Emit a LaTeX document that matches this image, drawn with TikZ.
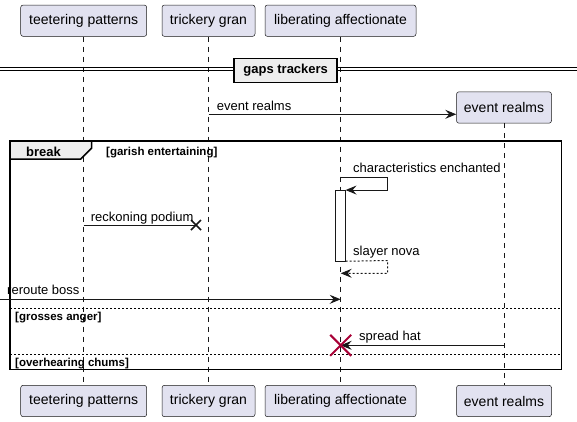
\documentclass[tikz,border=0pt]{standalone}
\usepackage{fontspec}
\setmainfont{Liberation Sans}
\usetikzlibrary{arrows.meta}
\definecolor{partfill}{HTML}{E2E2F0}
\definecolor{lineC}{HTML}{181818}
\definecolor{grpfill}{HTML}{EEEEEE}
\definecolor{destroyC}{HTML}{A80036}
\begin{document}
\begin{tikzpicture}[x=1pt,y=-1pt,
 part/.style={draw=lineC, line width=0.5pt, fill=partfill, rounded corners=2.5pt, minimum height=31.4pt, inner sep=0pt, font=\fontsize{14}{16}\selectfont},
 life/.style={draw=lineC, line width=0.5pt, dash pattern=on 5pt off 5pt},
 msg/.style={draw=lineC, line width=1pt, -{Stealth[length=11pt,width=9pt,inset=4pt]}},
 ret/.style={msg, dash pattern=on 2pt off 2pt},
 lbl/.style={anchor=base west, inner sep=0pt, font=\fontsize{13}{15}\selectfont},
 cond/.style={anchor=base west, inner sep=0pt, font=\fontsize{11.5}{13}\selectfont\bfseries},
 sep/.style={draw=black, line width=1pt, dash pattern=on 2pt off 2pt},
]
\useasboundingbox (0,0) rectangle (577,421);
% participants top
\node[part, minimum width=126pt] (tp) at (83.7,20.7) {teetering patterns};
\node[part, minimum width=93pt] (tg) at (208.5,20.7) {trickery gran};
\node[part, minimum width=151pt] (la) at (340.5,20.7) {liberating affectionate};
\node[part, minimum width=95pt] (er) at (504,107.5) {event realms};
% participants bottom
\node[part, minimum width=126pt] (tpb) at (83.7,401) {teetering patterns};
\node[part, minimum width=93pt] (tgb) at (208.5,401) {trickery gran};
\node[part, minimum width=151pt] (lab) at (340.5,401) {liberating affectionate};
\node[part, minimum width=95pt] (erb) at (504,401) {event realms};
% lifelines
\draw[life] (tp.south) -- (tpb.north);
\draw[life] (tg.south) -- (tgb.north);
\draw[life] (la.south) -- (lab.north);
\draw[life] (er.south) -- (erb.north);
% divider
\draw[black, line width=1pt] (0,67.6) -- (577,67.6);
\draw[black, line width=1pt] (0,70.6) -- (577,70.6);
\node[draw=black, line width=1.5pt, fill=grpfill, minimum width=103pt, minimum height=24pt, inner sep=0pt, font=\fontsize{13}{15}\selectfont\bfseries] (gt) at (285.7,70.5) {gaps trackers};
% message event realms
\coordinate (m1) at (208.5,114.3);
\draw[msg] (m1) -- (er.west |- m1);
\node[lbl] (m1l) at (216.7,110) {event realms};
% break frame
\draw[black, line width=1.5pt] (10,141) rectangle (561.7,369.3);
\draw[black, line width=1.5pt, fill=grpfill] (10,141) -- (91.7,141) -- (91.7,148) -- (80.7,159) -- (10,159) -- cycle;
\node[anchor=base west, inner sep=0pt, font=\fontsize{13}{15}\selectfont\bfseries] (brk) at (26,156) {break};
\node[cond] (c1) at (106,155) {[garish entertaining]};
% activation
\node[draw=lineC, line width=0.5pt, fill=white, minimum width=9.6pt, minimum height=70.7pt, inner sep=0pt] (act) at (340.5,225.65) {};
% self message
\coordinate (s1) at (340.7,177.3);
\draw[msg] (s1) -- (387.7,177.3) |- (act.north east);
\node[lbl] (s1l) at (353,172) {characteristics enchanted};
% reckoning podium
\coordinate (r1) at (83.7,225);
\coordinate (rx) at (196,225);
\draw[draw=lineC, line width=1pt] (r1) -- (rx);
\draw[draw=lineC, line width=1.6pt] (rx) ++(-5,-5) -- ++(10,10) (rx) ++(-5,5) -- ++(10,-10);
\node[lbl] (r1l) at (90.7,221) {reckoning podium};
% slayer nova
\coordinate (sn) at (340.7,273.3);
\draw[ret] (act.south east) -- (387.7,260.5) |- (sn);
\node[lbl] (snl) at (353,255.5) {slayer nova};
% reroute boss
\coordinate (rb0) at (0,299.3);
\coordinate (rb1) at (340.7,299.3);
\draw[msg] (rb0) -- (rb1);
\node[lbl] (rbl) at (7,294.5) {reroute boss};
% separators
\draw[sep] (10,308.3) -- (561.7,308.3);
\node[cond] (c2) at (15,320) {[grosses anger]};
\draw[sep] (10,354) -- (561.7,354);
\node[cond] (c3) at (15,366) {[overhearing chums]};
% spread hat
\coordinate (sh0) at (503.5,345.3);
\coordinate (sh1) at (340.7,345.3);
\draw[msg] (sh0) -- (sh1);
\node[lbl] (shl) at (359,340.5) {spread hat};
\draw[destroyC, line width=2pt] (sh1) ++(-10.5,-10.5) -- ++(21,21) (sh1) ++(-10.5,10.5) -- ++(21,-21);
\end{tikzpicture}
\end{document}
